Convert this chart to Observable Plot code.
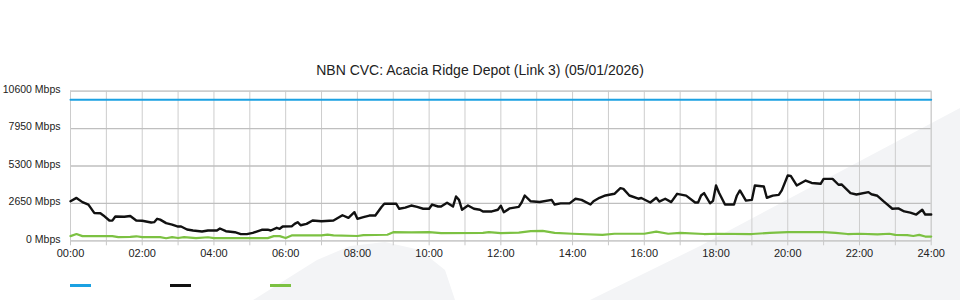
<!DOCTYPE html>
<html><head><meta charset="utf-8">
<script src="https://cdn.jsdelivr.net/npm/d3@7"></script>
<script src="https://cdn.jsdelivr.net/npm/@observablehq/plot@0.6"></script>
<style>
html,body{margin:0;padding:0;background:#fff;}
#wrap{position:relative;width:960px;height:300px;overflow:hidden;font-family:"Liberation Sans",Arial,Helvetica,sans-serif;}
.wm{position:absolute;left:0;top:0;width:960px;height:300px;background:#f3f4f6;}
#wmA{clip-path:polygon(253px 300px,317px 260px,350px 246px,385px 242px,420px 250px,445px 270px,455px 300px);}
#wmB{clip-path:polygon(590px 300px,700px 246px,960px 108px,960px 300px);}
#title{position:absolute;left:0;top:62px;width:960px;text-align:center;font-size:14px;color:#222;}
#chart{position:absolute;left:0;top:82px;}
.sw{position:absolute;top:284px;width:21px;height:3px;}
</style>
</head><body>
<div id="wrap">
<div class="wm" id="wmA"></div>
<div class="wm" id="wmB"></div>
<div id="title"></div>
<div id="chart"></div>
<div id="legend"></div>
</div>
<script>
const titleText = "NBN CVC: Acacia Ridge Depot (Link 3) (05/01/2026)";
const seriesNames = ["", "", ""];
const seriesColors = ["#1ba1e2", "#111111", "#7cc142"];

const yTicks = [0, 2650, 5300, 7950, 10600];
const xTickLabels = ["00:00","02:00","04:00","06:00","08:00","10:00","12:00","14:00","16:00","18:00","20:00","22:00","24:00"];

const capTimes = ["00:00", "24:00"];
const capValues = [10000, 10000];

const downTimes = ["00:00","00:10","00:20","00:30","00:40","00:50","00:55","01:05","01:10","01:15","01:30","01:40","01:50","02:00","02:15","02:20","02:25","02:30","02:40","02:50","03:00","03:05","03:15","03:25","03:40","03:50","04:05","04:10","04:20","04:35","04:45","04:55","05:05","05:20","05:30","05:35","05:45","05:50","05:55","06:10","06:15","06:20","06:25","06:35","06:45","07:00","07:20","07:25","07:35","07:45","07:55","08:00","08:10","08:20","08:30","08:40","08:45","09:05","09:10","09:20","09:30","09:40","09:50","10:00","10:05","10:15","10:20","10:30","10:40","10:45","10:50","10:55","11:05","11:15","11:25","11:30","11:45","11:55","12:00","12:05","12:15","12:30","12:35","12:40","12:50","13:05","13:25","13:30","13:40","13:55","14:05","14:15","14:30","14:35","14:45","14:55","15:10","15:20","15:25","15:35","15:50","15:55","16:10","16:20","16:25","16:35","16:45","16:55","17:10","17:25","17:30","17:35","17:40","17:50","17:55","18:00","18:05","18:15","18:30","18:35","18:40","18:50","19:00","19:05","19:20","19:25","19:35","19:45","19:50","20:00","20:05","20:15","20:30","20:40","20:55","21:00","21:15","21:25","21:30","21:45","21:55","22:15","22:20","22:30","22:40","22:55","23:05","23:15","23:25","23:35","23:45","23:50","24:00"];
const downValues = [2800,3040,2740,2560,1960,1950,1800,1440,1430,1720,1700,1760,1440,1420,1300,1320,1560,1500,1250,1150,1010,1010,800,730,660,730,730,870,680,610,470,470,560,780,790,730,920,850,1010,1020,1200,1320,1100,1200,1440,1390,1440,1560,1810,1630,2030,1560,1680,1790,1790,2380,2620,2620,2270,2350,2500,2400,2270,2270,2570,2430,2430,2690,2430,3140,2900,2200,2500,2270,2200,2080,2080,2200,2480,2030,2300,2400,2730,3210,2800,2750,2900,2570,2650,2650,2980,2900,2570,2800,3050,3210,3330,3730,3680,3210,2980,3030,2710,3050,2780,2980,2740,3330,3200,2710,2710,3210,3380,2660,2830,3920,3400,2570,2570,3210,3570,2850,2900,3920,3850,3050,3200,3250,3570,4630,4600,3920,4270,4100,4040,4390,4390,3970,3990,3380,3280,3450,3300,3190,2810,2270,2300,2080,2000,1860,2200,1860,1860];

const upTimes = ["00:00","00:10","00:20","01:00","01:10","01:20","01:40","01:50","02:00","02:30","02:40","02:50","03:00","03:10","03:30","03:50","04:00","05:30","05:40","05:50","06:00","06:10","07:00","07:10","07:20","08:00","08:10","08:50","09:00","09:30","10:00","10:20","11:30","11:40","12:00","12:30","12:50","13:10","13:30","14:00","14:50","15:10","16:00","16:20","16:40","17:00","17:40","18:00","19:00","19:30","20:00","20:30","21:00","21:20","21:40","22:00","22:30","22:50","23:00","23:20","23:30","23:40","23:50","24:00"];
const upValues = [330,480,330,330,330,260,280,320,260,260,180,260,200,260,190,250,190,190,330,330,200,380,380,440,380,340,400,430,610,600,610,540,560,610,540,580,680,700,560,500,420,500,500,650,500,560,480,500,480,560,610,610,610,560,480,500,460,500,420,400,340,420,300,300];

const toH = s => { const [h, m] = s.split(":").map(Number); return h + m / 60; };
const mk = (ts, vs) => ts.map((t, i) => ({t: toH(t), v: vs[i]}));
const cap = mk(capTimes, capValues);
const down = mk(downTimes, downValues);
const up = mk(upTimes, upValues);
const hours = d3.range(0, 25);

document.getElementById("title").textContent = titleText;

const chart = Plot.plot({
  width: 960,
  height: 183,
  marginLeft: 70,
  marginRight: 29.3,
  marginTop: 8.7,
  marginBottom: 24.7,
  style: {background: "transparent", fontSize: "11px", fontFamily: '"Liberation Sans", Arial, sans-serif', color: "#222"},
  x: {type: "linear", domain: [0, 24]},
  y: {domain: [0, 10600]},
  marks: [
    Plot.ruleX(hours, {stroke: "#cdcdcd", strokeWidth: 1}),
    Plot.ruleY(yTicks, {stroke: "#bfbfbf", strokeWidth: 1.3}),
    Plot.frame({stroke: "#cccccc"}),
    Plot.axisX({ticks: hours, tickFormat: h => h % 2 === 0 ? xTickLabels[h / 2] : "", tickSize: 5, tickPadding: 3, stroke: "#c8c8c8", label: null, fontSize: 11}),
    Plot.axisY({ticks: yTicks, tickFormat: d => `${d} Mbps`, tickSize: 0, tickPadding: 10, label: null, fontSize: 10.5, dy: -1.5}),
    Plot.line(up, {x: "t", y: "v", stroke: seriesColors[2], strokeWidth: 2.2}),
    Plot.line(down, {x: "t", y: "v", stroke: seriesColors[1], strokeWidth: 2.4}),
    Plot.line(cap, {x: "t", y: "v", stroke: seriesColors[0], strokeWidth: 2})
  ]
});
document.getElementById("chart").appendChild(chart);

const legend = document.getElementById("legend");
seriesColors.forEach((c, i) => {
  const s = document.createElement("div");
  s.className = "sw";
  s.style.left = (70 + i * 100) + "px";
  s.style.background = c;
  s.title = seriesNames[i];
  legend.appendChild(s);
});
</script>
</body></html>
